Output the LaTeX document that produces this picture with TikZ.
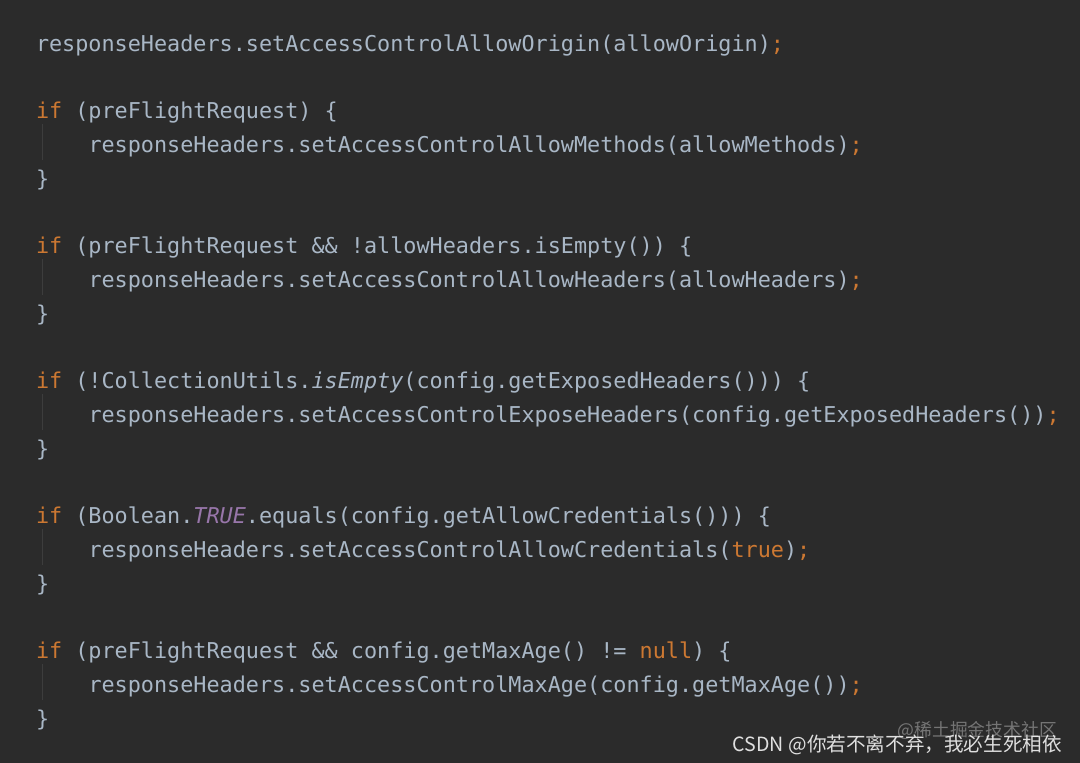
\documentclass[tikz,border=0pt]{standalone}
\usepackage{fontspec}
\usepackage{tikz}
\newfontfamily\codefont{DejaVu Sans Mono}
\newfontfamily\cjk{Noto Sans CJK SC}
\definecolor{bg}{HTML}{2B2B2B}
\definecolor{plain}{HTML}{A9B7C6}
\definecolor{kwcol}{HTML}{CC7832}
\definecolor{constcol}{HTML}{9876AA}
\definecolor{guidecol}{HTML}{3D3D3D}
\newcommand{\kw}[1]{\textcolor{kwcol}{#1}}
\newcommand{\cst}[1]{\textcolor{constcol}{\itshape #1}}
\tikzset{
	code/.style={anchor=base west,inner sep=0,outer sep=0,text=plain,font=\codefont\fontsize{21.8}{21.8}\selectfont},
	guide/.style={draw=guidecol,line width=1pt},
	watermark/.style={anchor=base east,inner sep=0,font=\cjk\fontsize{19.6}{19.6}\selectfont}
}

\begin{document}
\begin{tikzpicture}[x=1pt,y=-1pt]
	\fill[bg] (0,0) rectangle (1080,763);
	\useasboundingbox (0,0) rectangle (1080,763);
	% indent guides
	\draw[guide] (42,124) -- (42,160);
	\draw[guide] (42,259) -- (42,295);
	\draw[guide] (42,394) -- (42,430);
	\draw[guide] (42,529) -- (42,565);
	\draw[guide] (42,664) -- (42,700);
	% code lines
	\node[code] (0) at (36,51) {responseHeaders.setAccessControlAllowOrigin(allowOrigin)\kw{;}};
	\node[code] (2) at (36,118.5) {\kw{if} (preFlightRequest) \{};
	\node[code] (3) at (88.5,152.25) {responseHeaders.setAccessControlAllowMethods(allowMethods)\kw{;}};
	\node[code] (4) at (36,186) {\}};
	\node[code] (6) at (36,253.5) {\kw{if} (preFlightRequest \&\& !allowHeaders.isEmpty()) \{};
	\node[code] (7) at (88.5,287.25) {responseHeaders.setAccessControlAllowHeaders(allowHeaders)\kw{;}};
	\node[code] (8) at (36,321) {\}};
	\node[code] (10) at (36,388.5) {\kw{if} (!CollectionUtils.{\itshape isEmpty}(config.getExposedHeaders())) \{};
	\node[code] (11) at (88.5,422.25) {responseHeaders.setAccessControlExposeHeaders(config.getExposedHeaders())\kw{;}};
	\node[code] (12) at (36,456) {\}};
	\node[code] (14) at (36,523.5) {\kw{if} (Boolean.\cst{TRUE}.equals(config.getAllowCredentials())) \{};
	\node[code] (15) at (88.5,557.25) {responseHeaders.setAccessControlAllowCredentials(\kw{true})\kw{;}};
	\node[code] (16) at (36,591) {\}};
	\node[code] (18) at (36,658.5) {\kw{if} (preFlightRequest \&\& config.getMaxAge() != \kw{null}) \{};
	\node[code] (19) at (88.5,692.25) {responseHeaders.setAccessControlMaxAge(config.getMaxAge())\kw{;}};
	\node[code] (20) at (36,726) {\}};
	% watermarks
	\node[watermark,text=white,text opacity=0.35,font=\cjk\fontsize{17.8}{17.8}\selectfont] (juejin) at (1057,736) {@稀土掘金技术社区};
	\node[watermark,text=white,text opacity=0.85] (csdn) at (1062,751) {CSDN @你若不离不弃，我必生死相依};
\end{tikzpicture}
\end{document}
